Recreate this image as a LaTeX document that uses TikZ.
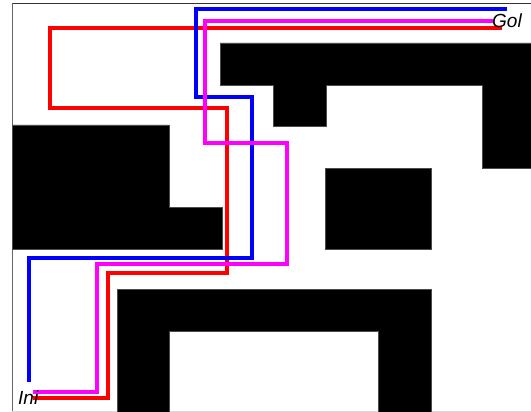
\documentclass[tikz,border=0pt]{standalone}
\usepackage{fontspec}
\setmainfont{Liberation Sans}
\definecolor{pathblue}{RGB}{0,0,255}
\definecolor{pathmag}{RGB}{255,0,255}
\definecolor{pathred}{RGB}{255,0,0}
\begin{document}
\begin{tikzpicture}[x=1pt,y=-1pt,
  obst/.style={fill=black,draw=black!70,line width=0.6},
  route/.style={line width=3.2,line join=miter},
  lbl/.style={font=\fontsize{19}{19}\selectfont\itshape,inner sep=0,anchor=base west}]
\useasboundingbox (0,0) rectangle (531,412);
\fill[white] (0,0) rectangle (531,412);
% frame
\draw[black!80,line width=0.8] (12,3) -- (531,3);
\draw[black!60,line width=0.8] (12,3) -- (12,412);
\draw[black!15,line width=0.8] (12,411) -- (531,411);
% obstacles
\draw[obst] (220,43) -- (531,43) -- (531,168) -- (482,168) -- (482,85) -- (326,85) -- (326,126) -- (273,126) -- (273,85) -- (220,85) -- cycle;
\draw[obst] (12,125) -- (169,125) -- (169,207) -- (222,207) -- (222,249) -- (12,249) -- cycle;
\draw[obst] (325,168) rectangle (431,249);
\draw[obst] (117,289) -- (431,289) -- (431,412) -- (378,412) -- (378,331) -- (169,331) -- (169,412) -- (117,412) -- cycle;
% routes
\coordinate (bs) at (29,382);
\coordinate (be) at (507,9);
\coordinate (ms) at (33,392);
\coordinate (me) at (493,21);
\coordinate (rs) at (33,398);
\coordinate (re) at (502,28);
\draw[route,pathred] (rs) -| (108,273) -| (227,108) -| (50,28) -- (re);
\draw[route,pathblue] (bs) |- (252,258) |- (196,97) |- (be);
\draw[route,pathmag] (ms) -| (97,264) -| (287,143) -| (205,21) -- (me);
% labels
\node[lbl] (gol) at (492,28) {Gol};
\node[lbl] (ini) at (18,404) {Ini};
\end{tikzpicture}
\end{document}
